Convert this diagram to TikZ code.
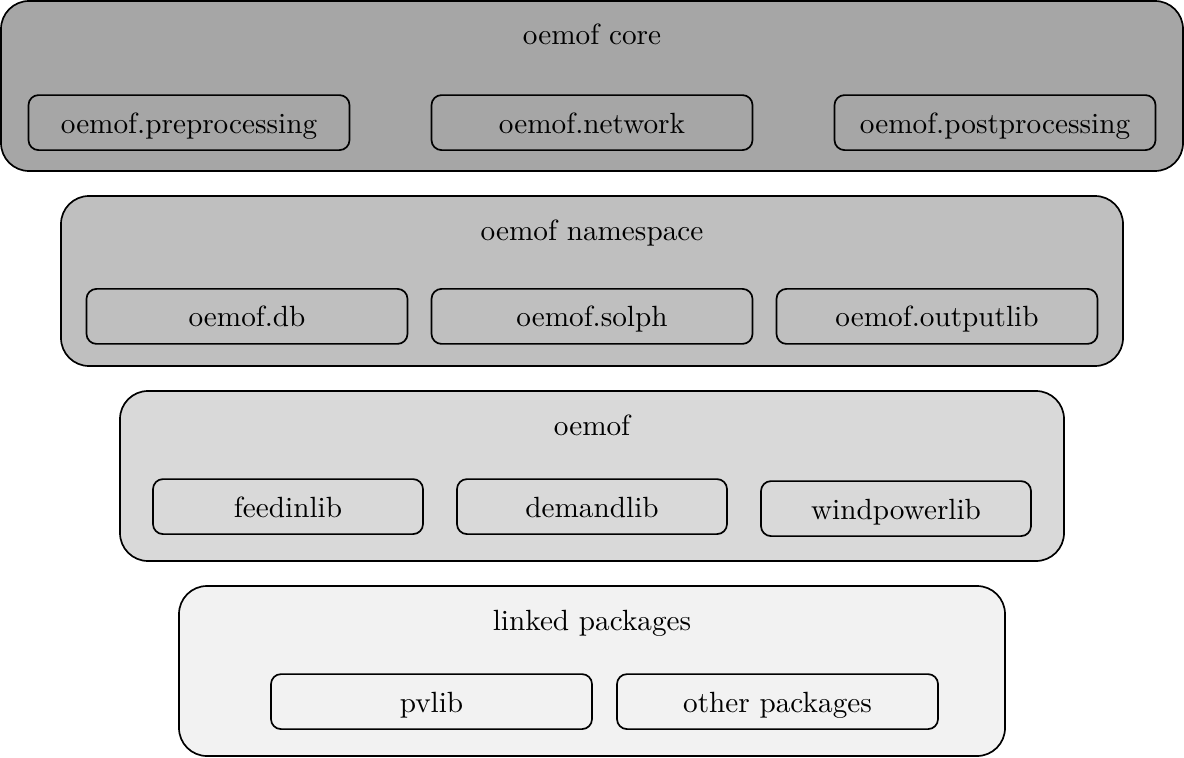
\documentclass[tikz,border=0pt]{standalone}
\usepackage{fontspec}
\setmainfont{lmroman10-regular.otf}
\usetikzlibrary{positioning}

\begin{document}
\begin{tikzpicture}[node distance=0.625cm and 0.625cm,
    font=\fontsize{20.8}{25}\selectfont,
    layer/.style={draw, line width=1.2pt, rounded corners=0.7cm,
        minimum height=4.25cm, inner sep=0pt, outer sep=0pt},
    package/.style={draw, line width=1.2pt, rounded corners=0.25cm,
        minimum width=8.025cm, minimum height=1.375cm, inner sep=0pt,
        outer sep=0pt, text height=16pt, text depth=1pt},
    smallpackage/.style={package, minimum width=6.75cm},
    title/.style={anchor=base}]

            \useasboundingbox (0,0) rectangle (29.6,18.925);

            % Layers, top to bottom
            \node (core) [layer, fill=black!35, minimum width=29.55cm] at (14.8,16.775) {};
            \node (namespace) [layer, fill=black!25, minimum width=26.55cm, below=of core] {};
            \node (oemof) [layer, fill=black!15, minimum width=23.6cm, below=of namespace] {};
            \node (linked) [layer, fill=black!5, minimum width=20.65cm, below=of oemof] {};

            % Layer titles
            \node (coretitle) [title] at ([yshift=-1.1cm]core.north) {oemof core};
            \node (namespacetitle) [title] at ([yshift=-1.1cm]namespace.north) {oemof namespace};
            \node (oemoftitle) [title] at ([yshift=-1.1cm]oemof.north) {oemof};
            \node (linkedtitle) [title] at ([yshift=-1.1cm]linked.north) {linked packages};

            % oemof core
            \node (network) [package] at ([yshift=-3.04cm]core.north) {oemof.network};
            \node (preproc) [package, left=2.05cm of network] {oemof.preprocessing};
            \node (postproc) [package, right=2.05cm of network] {oemof.postprocessing};

            % oemof namespace
            \node (solph) [package] at ([yshift=-3.01cm]namespace.north) {oemof.solph};
            \node (db) [package, left=0.6cm of solph] {oemof.db};
            \node (outputlib) [package, right=0.6cm of solph] {oemof.outputlib};

            % oemof
            \node (demandlib) [smallpackage] at ([yshift=-2.89cm]oemof.north) {demandlib};
            \node (feedinlib) [smallpackage, left=0.85cm of demandlib] {feedinlib};
            \node (windpowerlib) [smallpackage, right=0.85cm of demandlib, yshift=-0.05cm] {windpowerlib};

            % linked packages
            \node (pvlib) [package] at ([xshift=-4.0125cm, yshift=-2.89cm]linked.north) {pvlib};
            \node (other) [package, right=of pvlib] {other packages};

            \end{tikzpicture}
\end{document}
